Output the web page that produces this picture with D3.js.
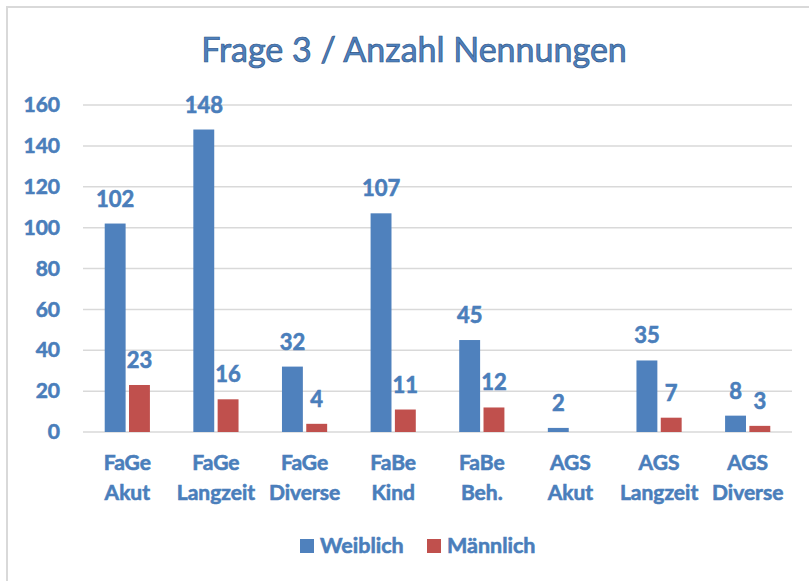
<!DOCTYPE html>
<html>
<head>
<meta charset="utf-8">
<script src="https://cdn.jsdelivr.net/npm/d3@7"></script>
<style>
  body { margin: 0; background: #fff; }
  svg { display: block; font-family: Lato, "Open Sans", sans-serif; }
  .bold { font-weight: 700; stroke: #4a7ebb; stroke-width: 0.6px; }
</style>
</head>
<body>
<svg id="chart"></svg>
<script>
const categories = [
  ["FaGe", "Akut"], ["FaGe", "Langzeit"], ["FaGe", "Diverse"], ["FaBe", "Kind"],
  ["FaBe", "Beh."], ["AGS", "Akut"], ["AGS", "Langzeit"], ["AGS", "Diverse"]
];
const seriesNames = ["Weiblich", "Männlich"];
const weiblich = [102, 148, 32, 107, 45, 2, 35, 8];
const maennlich = [23, 16, 4, 11, 12, null, 7, 3];
const yTicks = [0, 20, 40, 60, 80, 100, 120, 140, 160];
const title = "Frage 3 / Anzahl Nennungen";

const colors = ["#4f81bd", "#c0504d"];
const textColor = "#4a7ebb";

let width = 809;
let height = 581;

let svg = d3.select("#chart");
svg.attr("width", width).attr("height", height);

// chart frame (cut off on the right and bottom)
svg.append("rect")
  .attr("x", 7).attr("y", 7)
  .attr("width", 900).attr("height", 700)
  .attr("fill", "none")
  .attr("stroke", "#d9d9d9")
  .attr("stroke-width", 2);

const plotLeft = 83, plotRight = 792, plotTop = 105, plotBottom = 432;

let xScale = d3.scaleBand()
  .domain(d3.range(categories.length))
  .range([plotLeft, plotRight])
  .paddingInner(0.49)
  .paddingOuter(0.245);

let xInner = d3.scaleBand()
  .domain(seriesNames)
  .range([0, xScale.bandwidth()])
  .paddingInner(0.14);

let yScale = d3.scaleLinear()
  .domain([0, 160])
  .range([plotBottom, plotTop]);

// gridlines
svg.append("g")
  .selectAll("line")
  .data(yTicks)
  .enter()
  .append("line")
  .attr("x1", plotLeft).attr("x2", plotRight)
  .attr("y1", (d) => yScale(d)).attr("y2", (d) => yScale(d))
  .attr("stroke", "#d9d9d9")
  .attr("stroke-width", 1.5);

// y axis labels
let yAxis = d3.axisLeft(yScale).tickValues(yTicks).tickSize(0).tickPadding(23);
let yG = svg.append("g")
  .attr("transform", "translate(" + plotLeft + ",0)")
  .call(yAxis);
yG.select(".domain").remove();
yG.selectAll("text")
  .attr("class", "bold")
  .attr("fill", textColor)
  .style("font-size", "21px")
  .style("font-family", "Lato, sans-serif");

// bars
const rows = categories.map((c, i) => ({ i: i, values: [weiblich[i], maennlich[i]] }));

let groups = svg.append("g")
  .selectAll("g")
  .data(rows)
  .enter()
  .append("g")
  .attr("transform", (d) => "translate(" + xScale(d.i) + ",0)");

groups.selectAll("rect")
  .data((d) => d.values.map((v, k) => ({ name: seriesNames[k], k: k, v: v })).filter((e) => e.v != null))
  .enter()
  .append("rect")
  .attr("x", (d) => xInner(d.name))
  .attr("y", (d) => yScale(d.v))
  .attr("width", xInner.bandwidth())
  .attr("height", (d) => yScale(0) - yScale(d.v))
  .attr("fill", (d) => colors[d.k]);

groups.selectAll("text")
  .data((d) => d.values.map((v, k) => ({ name: seriesNames[k], k: k, v: v })).filter((e) => e.v != null))
  .enter()
  .append("text")
  .attr("class", "bold")
  .attr("x", (d) => xInner(d.name) + xInner.bandwidth() / 2)
  .attr("y", (d) => yScale(d.v) - 17)
  .attr("text-anchor", "middle")
  .attr("fill", textColor)
  .style("font-size", "22px")
  .text((d) => d.v);

// x axis category labels
let xLabels = svg.append("g")
  .selectAll("text")
  .data(categories)
  .enter()
  .append("text")
  .attr("class", "bold")
  .attr("x", (d, i) => xScale(i) + xScale.bandwidth() / 2)
  .attr("y", 470)
  .attr("text-anchor", "middle")
  .attr("fill", textColor)
  .style("font-size", "21px");

xLabels.append("tspan")
  .attr("x", (d, i) => xScale(i) + xScale.bandwidth() / 2)
  .text((d) => d[0]);
xLabels.append("tspan")
  .attr("x", (d, i) => xScale(i) + xScale.bandwidth() / 2)
  .attr("dy", 30)
  .text((d) => d[1]);

// title
svg.append("text")
  .attr("x", 414)
  .attr("y", 62)
  .attr("text-anchor", "middle")
  .attr("fill", "#4f81bd")
  .attr("stroke", "#2f5587")
  .attr("stroke-width", 0.7)
  .style("font-size", "34px")
  .text(title);

// legend
const legendX = [300, 427];
let legend = svg.append("g")
  .selectAll("g")
  .data(seriesNames)
  .enter()
  .append("g")
  .attr("transform", (d, i) => "translate(" + legendX[i] + ",539)");

legend.append("rect")
  .attr("width", 14).attr("height", 14)
  .attr("fill", (d, i) => colors[i]);

legend.append("text")
  .attr("class", "bold")
  .attr("x", 20)
  .attr("y", 14)
  .attr("fill", textColor)
  .style("font-size", "21.5px")
  .text((d) => d);
</script>
</body>
</html>
